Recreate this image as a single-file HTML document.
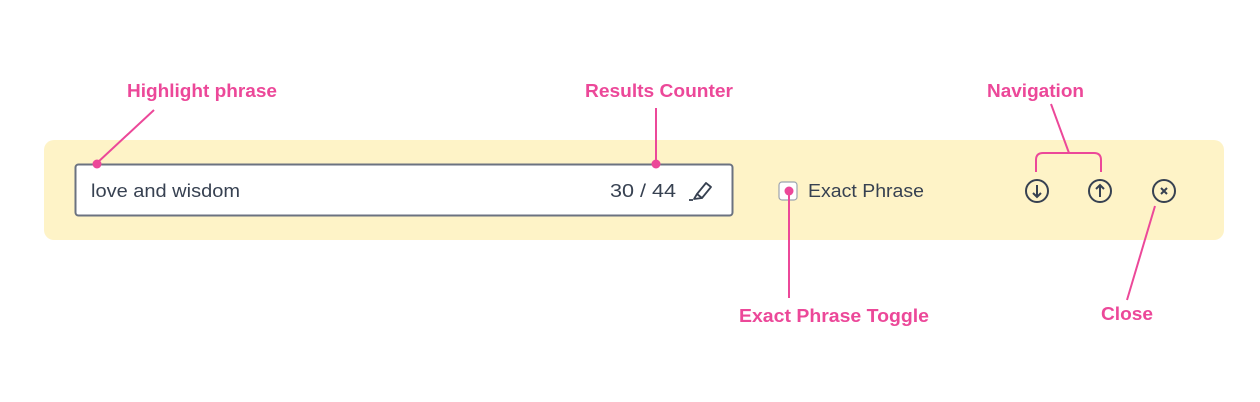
<!DOCTYPE html>
<html><head><style>body{margin:0;background:#fff}svg{display:block}</style></head>
<body>
<svg width="1260" height="402" viewBox="0 0 1260 402" xmlns="http://www.w3.org/2000/svg" font-family="Liberation Sans, sans-serif">
<rect x="44" y="140" width="1180" height="100" rx="10" fill="#fef3c7"/>
<rect x="75.5" y="164.5" width="657" height="51" rx="3" fill="#fff" stroke="#6b7280" stroke-width="2"/>
<text x="91" y="197" font-size="18" fill="#374151" textLength="149" lengthAdjust="spacingAndGlyphs">love and wisdom</text>
<text x="610" y="197" font-size="18" fill="#374151" textLength="66" lengthAdjust="spacingAndGlyphs">30 / 44</text>
<g fill="none" stroke="#374151" stroke-width="1.8" stroke-linejoin="round">
<path d="M697 194 L706 183 L711 187 L702 198 Z"/><path d="M697 194 L694 199 L702 198"/><path d="M689 200 L693 200"/>
</g>
<rect x="779" y="182" width="18" height="18" rx="3" fill="#fff" stroke="#9ca3af" stroke-width="1.2"/>
<text x="808" y="197" font-size="18" fill="#374151" textLength="116" lengthAdjust="spacingAndGlyphs">Exact Phrase</text>
<g fill="none" stroke="#374151" stroke-width="2">
<circle cx="1037" cy="191" r="11"/><path d="M1037 185 V197 M1033 193 L1037 197 L1041 193"/>
<circle cx="1100" cy="191" r="11"/><path d="M1100 197 V185 M1096 189 L1100 185 L1104 189"/>
<circle cx="1164" cy="191" r="11"/><path d="M1161 188 L1167 194 M1167 188 L1161 194"/>
</g>
<g stroke="#ec4899" stroke-width="2" fill="none">
<path d="M154 110 L97 163"/>
<path d="M656 108 V164"/>
<path d="M789 191 V298"/>
<path d="M1051 104 L1069 153"/>
<path d="M1036 172 V160 Q1036 153 1043 153 H1094 Q1101 153 1101 160 V172"/>
<path d="M1155 206 L1127 300"/>
</g>
<g fill="#ec4899">
<circle cx="97" cy="164" r="4.5"/><circle cx="656" cy="164" r="4.5"/><circle cx="789" cy="191" r="4.5"/>
</g>
<g fill="#ec4899" font-size="18" font-weight="bold">
<text x="127" y="97" textLength="150" lengthAdjust="spacingAndGlyphs">Highlight phrase</text>
<text x="585" y="97" textLength="148" lengthAdjust="spacingAndGlyphs">Results Counter</text>
<text x="987" y="97" textLength="97" lengthAdjust="spacingAndGlyphs">Navigation</text>
<text x="739" y="322" textLength="190" lengthAdjust="spacingAndGlyphs">Exact Phrase Toggle</text>
<text x="1101" y="320" textLength="52" lengthAdjust="spacingAndGlyphs">Close</text>
</g>
</svg>
</body></html>
